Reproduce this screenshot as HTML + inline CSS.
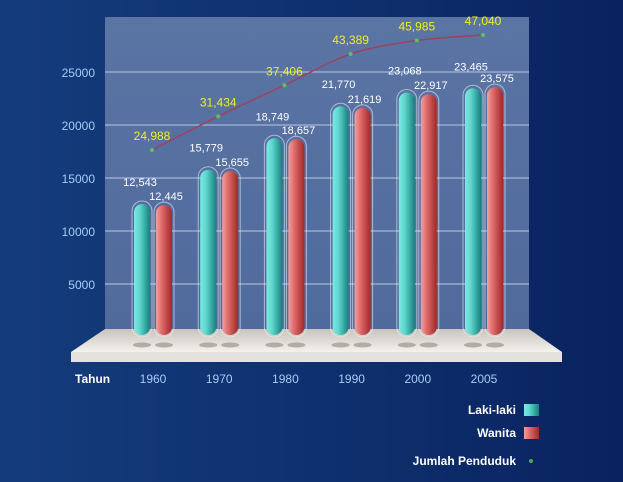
<!DOCTYPE html>
<html><head><meta charset="utf-8"><style>
body{margin:0;width:623px;height:482px;overflow:hidden;background:linear-gradient(90deg,#143c7c 0%,#0e2e6c 60%,#0a2260 100%);font-family:"Liberation Sans",sans-serif}
svg{display:block}
</style></head><body>
<svg id="c" width="623" height="482">
<defs>
<linearGradient id="bg" x1="0" y1="0" x2="0" y2="1"><stop offset="0" stop-color="#0c2a66"/><stop offset="1" stop-color="#0c2a66" stop-opacity="0"/></linearGradient>
<linearGradient id="panel" x1="0" y1="0" x2="0" y2="1"><stop offset="0" stop-color="#5a74a4"/><stop offset="1" stop-color="#506a9c"/></linearGradient>
<linearGradient id="teal" x1="0" y1="0" x2="1" y2="0"><stop offset="0" stop-color="#7ee8e0"/><stop offset="0.35" stop-color="#5fd8d0"/><stop offset="1" stop-color="#17807c"/></linearGradient>
<linearGradient id="red" x1="0" y1="0" x2="1" y2="0"><stop offset="0" stop-color="#f4a0a0"/><stop offset="0.35" stop-color="#e06c6c"/><stop offset="1" stop-color="#a02828"/></linearGradient>
<linearGradient id="floor" x1="0" y1="0" x2="0" y2="1"><stop offset="0" stop-color="#c8c4bc"/><stop offset="1" stop-color="#f4f2ee"/></linearGradient>
</defs>
<rect x="105" y="17" width="424" height="318" fill="url(#panel)"/>
<g id="grid"></g>
<polygon points="105,329 529,329 562,352 71,352" fill="url(#floor)"/>
<rect x="71" y="352" width="491" height="10" fill="#e4e2dc"/>
<g id="bars"></g>
<g id="line"></g>
<text x="75" y="383" fill="#fff" font-weight="bold" font-size="12">Tahun</text>
<g id="xl"></g>
<g>
<text x="516" y="414" fill="#fff" font-weight="bold" font-size="12" text-anchor="end">Laki-laki</text>
<rect x="524" y="404" width="15" height="12" fill="url(#teal)"/>
<text x="516" y="437" fill="#fff" font-weight="bold" font-size="12" text-anchor="end">Wanita</text>
<rect x="524" y="427" width="15" height="12" fill="url(#red)"/>
<text x="516" y="465" fill="#fff" font-weight="bold" font-size="12" text-anchor="end">Jumlah Penduduk</text>
<circle cx="531" cy="461" r="2" fill="#4caa50"/>
</g>
</svg>
<script>
const years=["1960","1970","1980","1990","2000","2005"];
const laki=[12543,15779,18749,21770,23068,23465];
const wanita=[12445,15655,18657,21619,22917,23575];
const total=[24988,31434,37406,43389,45985,47040];
const yTicks=[5000,10000,15000,20000,25000];
const NS="http://www.w3.org/2000/svg";
const yB=v=>337-v*53/5000;
const yL=v=>280.4-v*0.005217;
const xC=i=>153+i*66.2;
function mk(t,a,p){const e=document.createElementNS(NS,t);for(const k in a)e.setAttribute(k,a[k]);p.appendChild(e);return e;}
const grid=document.getElementById('grid');
yTicks.forEach(v=>{
 const l=mk('line',{x1:105,x2:529,y1:yB(v),y2:yB(v),stroke:'#b8c8e4','stroke-width':1},grid);
 
 
 const t=mk('text',{x:95,y:yB(v)+5,fill:'#a8ccf4','font-size':12,'text-anchor':'end'},grid);
 t.textContent=v;
 
 
});
const bars=document.getElementById('bars');
function bar(cx,v,fill,name,lx,anchor){
 const top=yB(v),bot=335;
 const o=mk('rect',{x:cx-10,y:top-3,width:20,height:bot-top+5,rx:10,fill:'none',stroke:'#e8eef8','stroke-opacity':0.6,'stroke-width':1},bars);
 
 
 const r=mk('rect',{x:cx-8,y:top,width:16,height:bot-top,rx:8,fill:fill},bars);
 
 
 const s=mk('ellipse',{cx:cx,cy:345,rx:9,ry:2.5,fill:'#8a8880',opacity:0.6},bars);
 
 
 const t=mk('text',{x:lx,y:top-(anchor=='l'?18:5),fill:'#fff','font-size':11,'text-anchor':'middle'},bars);
 t.textContent=v.toLocaleString('en-US');
 
 
}
const xl=document.getElementById('xl');
years.forEach((y,i)=>{
 bar(xC(i)-11,laki[i],'url(#teal)','bar-laki-'+y,xC(i)-13,'l');
 bar(xC(i)+11,wanita[i],'url(#red)','bar-wanita-'+y,xC(i)+13,'r');
 const t=mk('text',{x:xC(i),y:383,fill:'#a8ccf4','font-size':12,'text-anchor':'middle'},xl);
 t.textContent=y;
 
 
});
const lg=document.getElementById('line');
const pts=total.map((v,i)=>[xC(i)-1,yL(v)]);
let d='M'+pts[0][0]+','+pts[0][1];
for(let i=0;i<pts.length-1;i++){
 const p0=pts[Math.max(0,i-1)],p1=pts[i],p2=pts[i+1],p3=pts[Math.min(pts.length-1,i+2)];
 d+=' C'+(p1[0]+(p2[0]-p0[0])/6)+','+(p1[1]+(p2[1]-p0[1])/6)+' '+(p2[0]-(p3[0]-p1[0])/6)+','+(p2[1]-(p3[1]-p1[1])/6)+' '+p2[0]+','+p2[1];
}
const path=mk('path',{d:d,fill:'none',stroke:'#a04060','stroke-width':1.5},lg);


pts.forEach((p,i)=>{
 const c=mk('circle',{cx:p[0],cy:p[1],r:2,fill:'#5cc060'},lg);
 
 
 const t=mk('text',{x:p[0],y:p[1]-10,fill:'#f0f020','font-size':12,'text-anchor':'middle'},lg);
 t.textContent=total[i].toLocaleString('en-US');
 
 
});
</script>
</body></html>
